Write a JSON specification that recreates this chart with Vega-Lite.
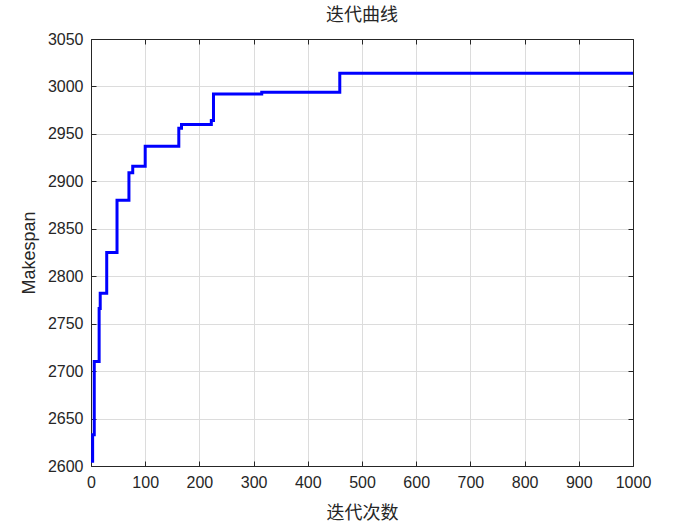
{
  "$schema": "https://vega.github.io/schema/vega-lite/v6.json",
  "width": 542,
  "height": 427,
  "autosize": {"type": "none"},
  "padding": {"left": 91, "top": 39, "right": 67, "bottom": 59},
  "background": "white",
  "view": {"stroke": null},
  "title": {"text": "迭代曲线", "font": "Noto Sans CJK SC", "fontSize": 18, "fontWeight": "normal", "color": "#262626", "offset": 6, "anchor": "middle"},
  "data": {"values": [
    {"iter": 0, "makespan": 2605},
    {"iter": 3, "makespan": 2633},
    {"iter": 6, "makespan": 2710},
    {"iter": 15, "makespan": 2766},
    {"iter": 17, "makespan": 2782},
    {"iter": 29, "makespan": 2825},
    {"iter": 48, "makespan": 2880},
    {"iter": 70, "makespan": 2909},
    {"iter": 77, "makespan": 2916},
    {"iter": 100, "makespan": 2937},
    {"iter": 162, "makespan": 2956},
    {"iter": 167, "makespan": 2960},
    {"iter": 222, "makespan": 2964},
    {"iter": 226, "makespan": 2992},
    {"iter": 315, "makespan": 2994},
    {"iter": 459, "makespan": 3014},
    {"iter": 1000, "makespan": 3014}
  ]},
  "resolve": {"axis": {"x": "independent", "y": "independent"}},
  "layer": [
    {
      "mark": {"type": "line", "interpolate": "step-after", "color": "#0000ff", "strokeWidth": 3, "clip": true},
      "encoding": {
        "x": {"field": "iter", "type": "quantitative", "title": "迭代次数",
          "scale": {"domain": [0, 1000], "nice": false},
          "axis": {"values": [0,100,200,300,400,500,600,700,800,900,1000], "format": "d", "labelFlush": false,
            "labelFont": "Liberation Sans", "labelFontSize": 16, "labelColor": "#262626",
            "titleFont": "Noto Sans CJK SC", "titleFontSize": 18, "titleFontWeight": "normal", "titleColor": "#262626",
            "gridColor": "#dcdcdc", "domain": true, "domainColor": "#262626", "ticks": true, "tickColor": "#262626", "tickSize": -5, "labelPadding": 13, "titlePadding": 14}},
        "y": {"field": "makespan", "type": "quantitative", "title": "Makespan",
          "scale": {"domain": [2600, 3050], "nice": false, "zero": false},
          "axis": {"values": [2600,2650,2700,2750,2800,2850,2900,2950,3000,3050], "format": "d", "labelFlush": false,
            "labelFont": "Liberation Sans", "labelFontSize": 16, "labelColor": "#262626",
            "titleFont": "Liberation Sans", "titleFontSize": 18, "titleFontWeight": "normal", "titleColor": "#262626",
            "gridColor": "#dcdcdc", "domain": true, "domainColor": "#262626", "ticks": true, "tickColor": "#262626", "tickSize": -5, "labelPadding": 13, "titlePadding": 9}}
      }
    },
    {
      "mark": {"type": "line", "strokeOpacity": 0},
      "encoding": {
        "x": {"field": "iter", "type": "quantitative",
          "axis": {"orient": "top", "title": null, "labels": false, "grid": false, "values": [0,100,200,300,400,500,600,700,800,900,1000],
            "domain": true, "domainColor": "#262626", "ticks": true, "tickColor": "#262626", "tickSize": -5}},
        "y": {"field": "makespan", "type": "quantitative",
          "axis": {"orient": "right", "title": null, "labels": false, "grid": false, "values": [2600,2650,2700,2750,2800,2850,2900,2950,3000,3050],
            "domain": true, "domainColor": "#262626", "ticks": true, "tickColor": "#262626", "tickSize": -5}}
      }
    }
  ]
}
